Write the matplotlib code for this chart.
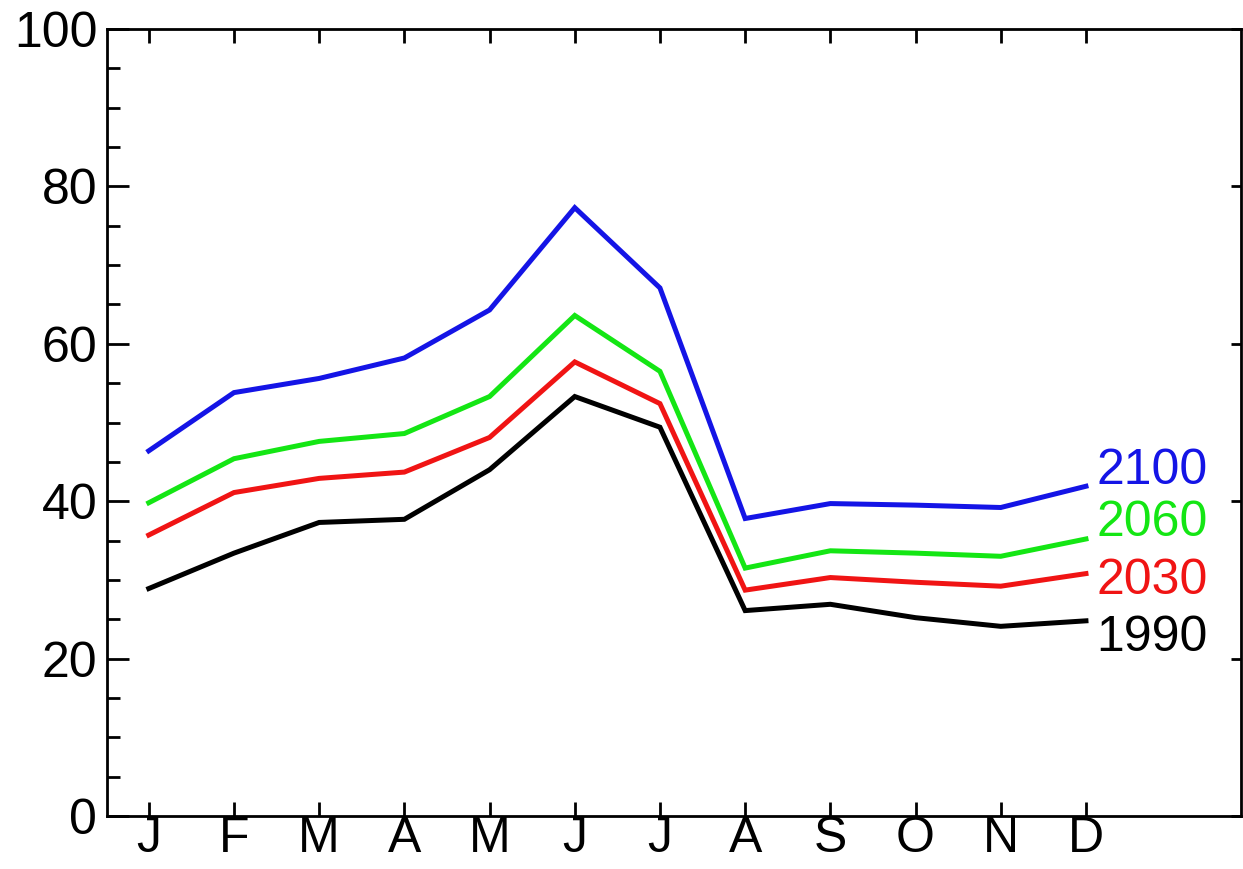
import numpy as np
import matplotlib
matplotlib.use("Agg")
import matplotlib.pyplot as plt
from matplotlib.ticker import MultipleLocator

# ---------------------------------------------------------------------------
# Data
# ---------------------------------------------------------------------------
months = ["J", "F", "M", "A", "M", "J", "J", "A", "S", "O", "N", "D"]
month_pos = np.arange(1, 13)

y1990 = [28.9, 33.4, 37.3, 37.7, 44.0, 53.3, 49.4, 26.1, 26.9, 25.2, 24.1, 24.8]
y2030 = [35.7, 41.1, 42.9, 43.7, 48.1, 57.7, 52.4, 28.7, 30.3, 29.7, 29.2, 30.8]
y2060 = [39.8, 45.4, 47.6, 48.6, 53.3, 63.6, 56.5, 31.5, 33.7, 33.4, 33.0, 35.2]
y2100 = [46.4, 53.8, 55.6, 58.2, 64.3, 77.3, 67.1, 37.8, 39.7, 39.5, 39.2, 41.9]

series = [
    ("2100", y2100, "#1414e6", 43.8),
    ("2060", y2060, "#14e614", 37.2),
    ("2030", y2030, "#f01414", 29.9),
    ("1990", y1990, "#000000", 22.6),
]

plt.rcParams["font.family"] = ["Liberation Sans", "DejaVu Sans"]

fig = plt.figure(figsize=(12.43, 8.69), dpi=100)
ax = fig.add_axes([0.0861, 0.061, 0.9123, 0.9056])

for name, vals, color, label_y in series:
    ax.plot(month_pos, vals, color=color, linewidth=3.6, solid_joinstyle="miter")
    ax.text(12.12, label_y, name, color=color, fontsize=36, ha="left", va="center")

ax.set_xlim(0.51, 13.82)
ax.set_ylim(0, 100)
ax.set_xticks(month_pos)
ax.set_xticklabels(months)
ax.yaxis.set_major_locator(MultipleLocator(20))
ax.yaxis.set_minor_locator(MultipleLocator(5))

for s in ax.spines.values():
    s.set_linewidth(2.0)

ax.tick_params(axis="y", which="major", direction="in", length=16, width=2.0,
               labelsize=36, pad=7, right=True)
ax.tick_params(axis="y", which="minor", direction="in", length=9, width=2.0,
               right=False)
ax.tick_params(axis="x", which="major", direction="in", length=10, width=2.0,
               labelsize=36, pad=0, top=True)

# short inward ticks on the right spine
for t in ax.yaxis.get_major_ticks():
    t.tick2line.set_markersize(7)

fig.savefig("out.png", dpi=100, facecolor="white")
